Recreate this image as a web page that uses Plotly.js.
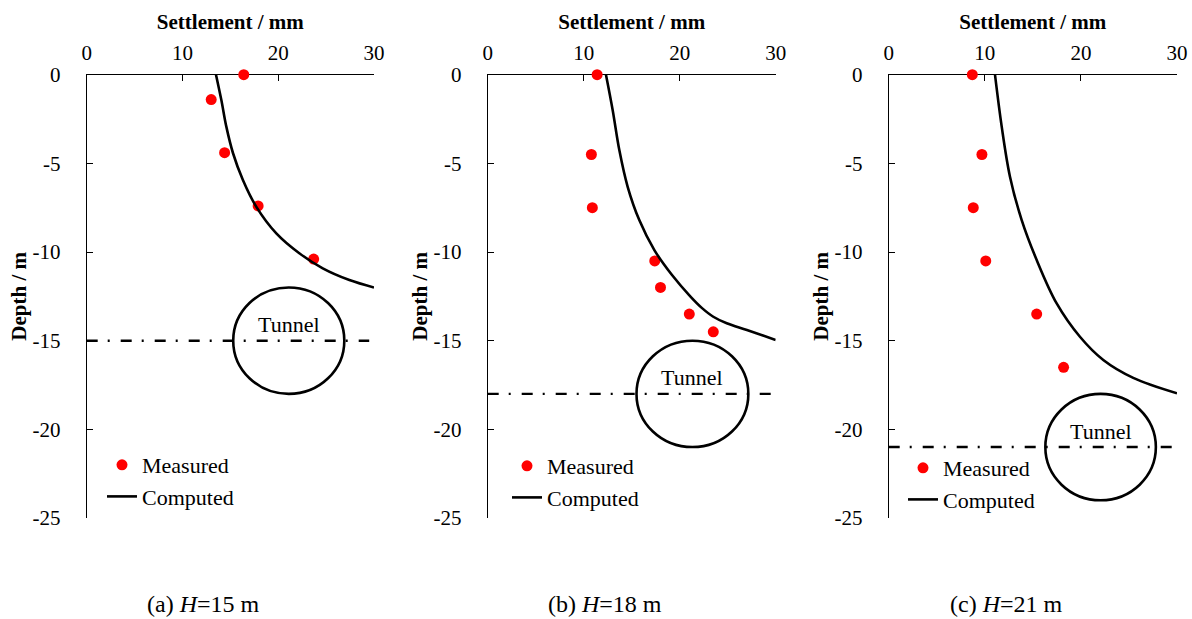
<!DOCTYPE html>
<html>
<head>
<meta charset="utf-8">
<script src="https://cdn.plot.ly/plotly-3.0.1.min.js"></script>
<style>
  html, body { margin: 0; padding: 0; background: #fff; }
  #chart { width: 1192px; height: 619px; }
</style>
</head>
<body>
<div id="chart"></div>
<script>
// Cover depth of the tunnel axis for each case (m)
const coverDepths = [15, 18, 21];
const panelLabels = ['(a)', '(b)', '(c)'];

// Measured settlement (mm) against depth (m)
const measuredSettlementA = [16.4, 13.0, 14.4, 17.9, 23.7];
const measuredDepthA = [0, -1.4, -4.4, -7.4, -10.4];
const measuredSettlementB = [11.4, 10.8, 10.9, 17.4, 18.0, 21.0, 23.5];
const measuredDepthB = [0, -4.5, -7.5, -10.5, -12, -13.5, -14.5];
const measuredSettlementC = [8.7, 9.7, 8.8, 10.1, 15.4, 18.2];
const measuredDepthC = [0, -4.5, -7.5, -10.5, -13.5, -16.5];

// Computed settlement profiles
const computedSettlementA = [13.5, 14.06, 14.58, 15.28, 16.31, 17.7, 19.8, 22.2, 24.65, 27.43, 30];
const computedDepthA = [0, -1.43, -2.93, -4.43, -5.94, -7.44, -8.95, -10.07, -10.92, -11.58, -12];
const computedSettlementB = [12.32, 13.02, 13.71, 14.58, 15.79, 17.36, 19.2, 21.1, 22.3, 23.5, 24.9, 27.0, 30];
const computedDepthB = [0, -2, -4.25, -6.32, -8.2, -9.89, -11.3, -12.5, -13.15, -13.65, -14.02, -14.4, -14.96];
const computedSettlementC = [11.06, 11.76, 12.62, 13.84, 15.4, 17.48, 19.9, 22.33, 25.45, 30];
const computedDepthC = [0, -2.93, -5.75, -8.2, -10.45, -12.9, -14.78, -16.09, -17.1, -17.97];

// Tunnel outline, horizontal extent in the settlement axis units; diameter 6 m
const tunnelLeft = [15.3, 15.5, 16.3];
const tunnelRight = [26.9, 27.15, 27.8];
const tunnelDiameter = 6;
const axisLineEnd = 29.5;

// Axis ticks
const settlementTicks = [0, 10, 20, 30];
const depthTicks = [0, -5, -10, -15, -20, -25];
const depthTickText = ['0', '-5', '-10', '-15', '-20', '-25'];

const FONT = 'Liberation Serif, Times New Roman, serif';
const measured = [[measuredSettlementA, measuredDepthA], [measuredSettlementB, measuredDepthB], [measuredSettlementC, measuredDepthC]];
const computed = [[computedSettlementA, computedDepthA], [computedSettlementB, computedDepthB], [computedSettlementC, computedDepthC]];

// Panel placement (pixels on the 1192x619 page)
const W = 1192, H = 619;
const xDomainsPx = [[86.7, 374], [487.7, 775.7], [888.7, 1177]];
const yDomain = [(H - 518) / H, (H - 74.7) / H];
const legendPx = [[102, 444], [507, 445], [903, 447]];
const captionCenterPx = [203.5, 604.7, 1006];

const traces = [];
const layout = {
  width: W, height: H,
  margin: {l: 0, r: 0, t: 0, b: 0},
  paper_bgcolor: '#fff', plot_bgcolor: 'rgba(0,0,0,0)',
  font: {family: FONT, size: 21, color: '#000'},
  shapes: [], annotations: []
};

for (let i = 0; i < 3; i++) {
  const sfx = i === 0 ? '' : String(i + 1);
  const xa = 'x' + sfx, ya = 'y' + sfx;
  const lg = 'legend' + sfx;

  traces.push({
    type: 'scatter', mode: 'markers', name: 'Measured',
    x: measured[i][0], y: measured[i][1], xaxis: xa, yaxis: ya,
    marker: {color: '#ff0000', size: 11}, cliponaxis: false,
    legend: lg, legendgroup: 'm' + i
  });
  traces.push({
    type: 'scatter', mode: 'lines', name: 'Computed',
    x: computed[i][0], y: computed[i][1], xaxis: xa, yaxis: ya,
    line: {color: '#000', width: 2.6, shape: 'spline', smoothing: 1}, cliponaxis: false,
    legend: lg, legendgroup: 'c' + i
  });

  layout['xaxis' + sfx] = {
    domain: [xDomainsPx[i][0] / W, xDomainsPx[i][1] / W],
    anchor: ya, side: 'top', range: [0, 30],
    tickvals: settlementTicks, ticks: 'inside', ticklen: 6, tickcolor: '#000', tickwidth: 1,
    showline: true, linecolor: '#000', linewidth: 1, showgrid: false, zeroline: false,
    layer: 'below traces', ticklabelstandoff: 5,
    tickfont: {family: FONT, size: 21, color: '#000'},
    title: {text: '<b>Settlement / mm</b>', font: {family: FONT, size: 21, color: '#000'}, standoff: 5}
  };
  layout['yaxis' + sfx] = {
    domain: yDomain, anchor: xa, range: [-25, 0],
    tickvals: depthTicks, ticktext: depthTickText, ticks: 'inside', ticklen: 6, tickcolor: '#000', tickwidth: 1,
    showline: true, linecolor: '#000', linewidth: 1, showgrid: false, zeroline: false,
    layer: 'below traces', ticklabelstandoff: 21,
    tickfont: {family: FONT, size: 21, color: '#000'},
    title: {text: '<b>Depth / m</b>', font: {family: FONT, size: 21, color: '#000'}, standoff: 0}
  };

  layout[lg] = {
    x: legendPx[i][0] / W, y: 1 - legendPx[i][1] / H, xanchor: 'left', yanchor: 'top',
    bgcolor: 'rgba(0,0,0,0)', borderwidth: 0, itemwidth: 30,
    tracegroupgap: 0, traceorder: 'grouped',
    font: {family: FONT, size: 22, color: '#000'}
  };

  const Hc = coverDepths[i];
  // Tunnel cross-section
  layout.shapes.push({
    type: 'circle', xref: xa, yref: ya,
    x0: tunnelLeft[i], x1: tunnelRight[i], y0: -Hc - tunnelDiameter / 2, y1: -Hc + tunnelDiameter / 2,
    line: {color: '#000', width: 2.6}
  });
  // Tunnel axis level
  layout.shapes.push({
    type: 'line', xref: xa, yref: ya, x0: 0, x1: axisLineEnd, y0: -Hc, y1: -Hc,
    line: {color: '#000', width: 2.4, dash: '11px,10px,2px,11px'}
  });
  layout.annotations.push({
    xref: xa, yref: ya, x: (tunnelLeft[i] + tunnelRight[i]) / 2, y: -Hc + 0.9,
    text: 'Tunnel', showarrow: false, font: {family: FONT, size: 22, color: '#000'}
  });
  layout.annotations.push({
    xref: 'paper', yref: 'paper',
    x: captionCenterPx[i] / W, y: (H - 604) / H,
    xanchor: 'center', yanchor: 'middle',
    text: panelLabels[i] + ' <i>H</i>=' + Hc + ' m', showarrow: false,
    font: {family: FONT, size: 24, color: '#000'}
  });
}

Plotly.newPlot('chart', traces, layout, {staticPlot: true, displayModeBar: false});
</script>
</body>
</html>
